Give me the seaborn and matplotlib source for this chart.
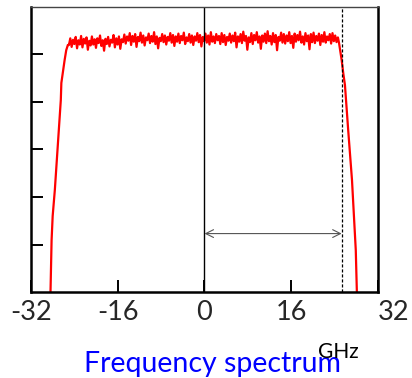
import numpy as np
import pandas as pd
import matplotlib
matplotlib.use("Agg")
import matplotlib.pyplot as plt
import seaborn as sns

# Spectrum (y axis in grid divisions, 0..6)
left_edge_x = [-28.5, -28.4, -28.2, -28.0, -27.6, -27.0, -26.5, -26.4, -25.8, -25.5, -25.2]
left_edge_y = [-0.2, 0.0, 1.09, 1.6, 2.15, 3.2, 4.04, 4.4, 4.88, 5.09, 5.2]

top_vals = [
    5.20, 5.34, 5.16, 5.31, 5.22, 5.37, 5.13, 5.30, 5.21, 5.39, 5.15, 5.33, 5.23, 5.36, 5.10, 5.29, 5.19, 5.38, 5.21, 5.32,
    5.14, 5.34, 5.24, 5.40, 5.18, 5.30, 5.08, 5.33, 5.22, 5.37, 5.17, 5.31, 5.25, 5.41, 5.15, 5.34, 5.21, 5.38, 5.12, 5.32,
    5.26, 5.42, 5.23, 5.38, 5.29, 5.45, 5.20, 5.39, 5.27, 5.43, 5.16, 5.37, 5.28, 5.46, 5.25, 5.40, 5.19, 5.36, 5.30, 5.44,
    5.24, 5.39, 5.27, 5.47, 5.22, 5.38, 5.13, 5.35, 5.28, 5.43, 5.26, 5.40, 5.21, 5.37, 5.29, 5.45, 5.25, 5.41, 5.18, 5.38,
    5.27, 5.44, 5.24, 5.39, 5.30, 5.46, 5.22, 5.36, 5.28, 5.43, 5.25, 5.40, 5.20, 5.38, 5.29, 5.45, 5.26, 5.41, 5.17, 5.37,
    5.28, 5.44, 5.25, 5.40, 5.21, 5.47, 5.27, 5.38, 5.24, 5.43, 5.30, 5.39, 5.22, 5.45, 5.26, 5.41, 5.20, 5.37, 5.29, 5.44,
    5.25, 5.40, 5.28, 5.46, 5.15, 5.38, 5.27, 5.43, 5.24, 5.48, 5.29, 5.39, 5.10, 5.36, 5.26, 5.45, 5.22, 5.41, 5.30, 5.47,
    5.25, 5.38, 5.12, 5.40, 5.27, 5.44, 5.24, 5.49, 5.28, 5.39, 5.21, 5.45, 5.26, 5.41, 5.09, 5.37, 5.29, 5.46, 5.25, 5.43,
    5.23, 5.40, 5.28, 5.47, 5.24, 5.39, 5.14, 5.44, 5.27, 5.41, 5.30, 5.48, 5.25, 5.38, 5.21, 5.45, 5.28, 5.40, 5.11, 5.43,
    5.26, 5.46, 5.24, 5.39, 5.29, 5.44, 5.20, 5.41, 5.27, 5.47, 5.25, 5.38, 5.30, 5.43, 5.23, 5.45, 5.28, 5.40, 5.26, 5.36,
]
top_x = np.linspace(-25.0, 24.6, len(top_vals))

right_edge_x = [24.8, 25.0, 25.3, 25.6, 25.9, 26.5, 27.2, 27.9, 28.1, 28.2]
right_edge_y = [5.25, 5.1, 4.88, 4.6, 4.36, 3.41, 2.36, 0.88, 0.0, -0.2]

x_ticks = [-32, -16, 0, 16, 32]
x_labels = ["-32", "-16", "0", "16", "32"]
y_ticks = [1, 2, 3, 4, 5]
cutoff = 25.3
arrow_y = 1.23

df = pd.DataFrame({
    "f": list(left_edge_x) + list(top_x) + list(right_edge_x),
    "p": list(left_edge_y) + list(top_vals) + list(right_edge_y),
})

sns.set_style("white")
plt.rcParams["font.family"] = ["Lato", "DejaVu Sans"]

fig = plt.figure(figsize=(4.12, 3.78), dpi=100)
ax = fig.add_axes([0.0752, 0.2275, 0.8423, 0.754])

sns.lineplot(data=df, x="f", y="p", sort=False, estimator=None,
             color="#ff0000", lw=1.6, ax=ax)

ax.axvline(0, color="black", lw=1.0)
ax.axvline(cutoff, color="black", lw=0.9, ls=(0, (2.5, 1.5)))
ax.annotate("", xy=(0, arrow_y), xytext=(cutoff, arrow_y),
            arrowprops=dict(arrowstyle="<->", color="#555555", lw=0.8,
                            shrinkA=0, shrinkB=0, mutation_scale=14))

ax.set_xlim(-32, 32)
ax.set_ylim(0, 6)
ax.set_xticks(x_ticks)
ax.set_xticklabels(x_labels, fontsize=19.5)
ax.get_xticklabels()[-1].set_horizontalalignment("left")
ax.set_yticks(y_ticks)
ax.set_yticklabels([])
ax.tick_params(axis="both", direction="in", length=8.6, width=1.4, color="black",
               left=True, bottom=True)
ax.tick_params(axis="x", pad=6)
ax.set_xlabel("")
ax.set_ylabel("")

for side in ["left", "bottom", "right"]:
    ax.spines[side].set_color("black")
    ax.spines[side].set_linewidth(1.8)
ax.spines["top"].set_color("#444444")
ax.spines["top"].set_linewidth(1.0)

fig.text(0.515, 0.016, "Frequency spectrum", color="#0000ff", fontsize=20.5,
         ha="center", va="baseline")
fig.text(0.772, 0.053, "GHz", color="black", fontsize=15, ha="left", va="baseline")

fig.savefig("out.png", dpi=100)
